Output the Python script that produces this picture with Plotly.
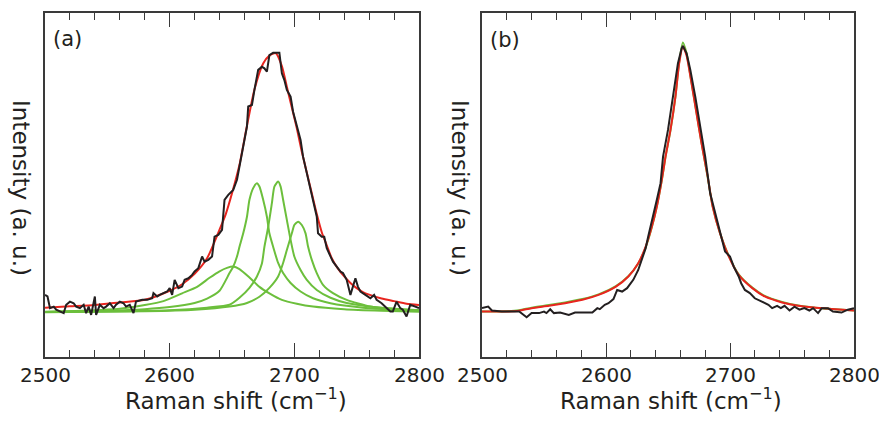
import plotly.graph_objects as go
from plotly.subplots import make_subplots

# ---------------- Panel (a) ----------------
a_black_x = [2500, 2502, 2504, 2507, 2509, 2512, 2515, 2517, 2520, 2523, 2525, 2528, 2531, 2533, 2535,
             2537, 2540, 2541, 2544, 2547, 2549, 2552, 2555, 2557, 2560, 2563, 2565, 2568, 2571, 2573,
             2578, 2582, 2586, 2587, 2590, 2592, 2595, 2598, 2600, 2602, 2604, 2607, 2610, 2612, 2615,
             2618, 2620, 2623, 2626, 2628, 2631, 2634, 2636, 2639, 2642, 2644, 2647, 2650, 2651, 2654,
             2656, 2659, 2662, 2663, 2666, 2668, 2671, 2674, 2676, 2678, 2680, 2683, 2688, 2690, 2692,
             2694, 2697, 2699, 2702, 2705, 2707, 2710, 2713, 2715, 2718, 2719, 2722, 2724, 2726, 2729,
             2731, 2734, 2737, 2739, 2742, 2745, 2747, 2749, 2751, 2753, 2757, 2761, 2764, 2766, 2770,
             2774, 2777, 2779, 2782, 2785, 2787, 2790, 2793, 2797, 2800]
a_black_y = [0.069, 0.063, 0.018, 0.024, 0.012, 0.005, -0.001, 0.031, 0.043, 0.037, 0.024, 0.018, 0.031, -0.001, 0.024,
             -0.008, 0.063, -0.008, 0.031, 0.018, 0.024, 0.037, 0.018, 0.031, 0.043, 0.037, 0.024, 0.031, -0.001, 0.043,
             0.050, 0.050, 0.056, 0.076, 0.063, 0.069, 0.076, 0.082, 0.095, 0.069, 0.127, 0.095, 0.101, 0.127, 0.133,
             0.146, 0.159, 0.172, 0.217, 0.197, 0.204, 0.217, 0.293, 0.300, 0.319, 0.435, 0.454, 0.467, 0.473, 0.512,
             0.563, 0.640, 0.717, 0.794, 0.800, 0.858, 0.935, 0.947, 0.941, 0.928, 0.992, 1.001, 1.001, 0.922, 0.896,
             0.858, 0.832, 0.774, 0.717, 0.665, 0.601, 0.537, 0.473, 0.422, 0.370, 0.306, 0.293, 0.293, 0.249, 0.217,
             0.197, 0.178, 0.159, 0.153, 0.127, 0.069, 0.101, 0.133, 0.101, 0.082, 0.069, 0.056, 0.069, 0.050, 0.037,
             0.018, 0.005, 0.005, 0.043, 0.018, 0.012, -0.014, 0.031, 0.024, 0.018]

a_fit_x = [2500, 2520, 2540, 2560, 2580, 2600, 2610, 2620, 2630, 2640, 2645, 2650, 2656, 2662, 2668, 2675,
           2680, 2685, 2690, 2694, 2698, 2702, 2706, 2710, 2714, 2718, 2722, 2726, 2730, 2735, 2740, 2745,
           2750, 2755, 2760, 2770, 2780, 2790, 2800]
a_fit_y = [0.020, 0.025, 0.030, 0.040, 0.050, 0.085, 0.110, 0.150, 0.210, 0.320, 0.380, 0.460, 0.570, 0.720,
           0.860, 0.960, 0.990, 1.000, 0.950, 0.870, 0.790, 0.710, 0.620, 0.540, 0.460, 0.380, 0.310, 0.260,
           0.210, 0.170, 0.140, 0.115, 0.095, 0.080, 0.070, 0.055, 0.045, 0.035, 0.030]

# component peaks (green)
c1_x = [2500, 2530, 2560, 2580, 2595, 2610, 2622, 2632, 2640, 2646, 2651, 2656, 2664, 2672, 2680, 2690,
        2702, 2715, 2740, 2770, 2800]
c1_y = [0.003, 0.008, 0.016, 0.030, 0.045, 0.075, 0.100, 0.135, 0.160, 0.173, 0.178, 0.168, 0.136, 0.100,
        0.075, 0.050, 0.035, 0.024, 0.014, 0.008, 0.004]

c2_x = [2500, 2550, 2580, 2600, 2620, 2630, 2640, 2648, 2651, 2654, 2656, 2659, 2662, 2664, 2667, 2670,
        2672, 2675, 2678, 2680, 2683, 2687, 2691, 2697, 2705, 2715, 2729, 2755, 2800]
c2_y = [0.004, 0.008, 0.014, 0.022, 0.038, 0.055, 0.085, 0.153, 0.178, 0.217, 0.254, 0.306, 0.370, 0.435,
        0.480, 0.499, 0.486, 0.435, 0.370, 0.306, 0.254, 0.192, 0.153, 0.115, 0.082, 0.056, 0.037, 0.020, 0.007]

c3_x = [2500, 2550, 2600, 2630, 2648, 2656, 2664, 2670, 2674, 2676, 2679, 2682, 2684, 2687, 2689, 2691,
        2694, 2697, 2700, 2705, 2710, 2718, 2729, 2742, 2769, 2800]
c3_y = [0.003, 0.005, 0.010, 0.020, 0.031, 0.058, 0.096, 0.140, 0.190, 0.254, 0.330, 0.422, 0.486, 0.505,
        0.486, 0.435, 0.358, 0.281, 0.217, 0.165, 0.127, 0.088, 0.058, 0.038, 0.020, 0.010]

c4_x = [2500, 2580, 2620, 2648, 2662, 2672, 2680, 2687, 2691, 2694, 2698, 2700, 2703, 2706, 2709, 2711,
        2714, 2718, 2723, 2731, 2742, 2761, 2782, 2800]
c4_y = [0.002, 0.006, 0.012, 0.024, 0.038, 0.062, 0.096, 0.140, 0.192, 0.242, 0.306, 0.338, 0.351, 0.338,
        0.306, 0.255, 0.204, 0.153, 0.108, 0.076, 0.050, 0.024, 0.015, 0.010]

# ---------------- Panel (b) ----------------
b_black_x = [2500, 2505, 2508, 2516, 2530, 2534, 2536, 2540, 2546, 2550, 2552, 2555, 2558, 2563, 2570,
             2575, 2589, 2593, 2595, 2599, 2602, 2606, 2609, 2613, 2617, 2620, 2622, 2626, 2629, 2632,
             2634, 2638, 2641, 2644, 2646, 2650, 2654, 2658, 2661, 2662, 2665, 2668, 2672, 2676, 2680,
             2684, 2688, 2692, 2696, 2700, 2703, 2707, 2709, 2712, 2716, 2720, 2726, 2731, 2734, 2738,
             2741, 2744, 2748, 2752, 2756, 2760, 2764, 2767, 2771, 2774, 2779, 2783, 2790, 2795, 2800]
b_black_y = [0.018, 0.024, 0.009, 0.005, 0.005, -0.008, -0.017, -0.001, -0.001, 0.005, -0.001, 0.014, -0.001, 0.001, -0.008,
             0.001, 0.001, 0.018, 0.014, 0.031, 0.037, 0.053, 0.088, 0.082, 0.095, 0.114, 0.127, 0.165, 0.210, 0.249,
             0.293, 0.370, 0.435, 0.499, 0.601, 0.704, 0.832, 0.960, 1.018, 1.027, 0.999, 0.935, 0.832, 0.717, 0.601,
             0.460, 0.383, 0.306, 0.236, 0.217, 0.178, 0.140, 0.114, 0.088, 0.076, 0.056, 0.043, 0.031, 0.018, 0.027,
             0.018, 0.027, 0.009, 0.024, 0.012, 0.018, 0.009, 0.018, -0.001, 0.018, 0.018, 0.005, 0.001, 0.012, 0.018]

b_fit_x = [2500, 2520, 2530, 2540, 2554, 2567, 2581, 2594, 2608, 2618, 2626, 2632, 2637, 2641, 2645, 2648,
           2652, 2656, 2659, 2662, 2665, 2669, 2673, 2677, 2682, 2686, 2692, 2699, 2707, 2718, 2728, 2742,
           2755, 2769, 2782, 2800]
b_fit_y = [0.005, 0.005, 0.008, 0.018, 0.027, 0.037, 0.050, 0.069, 0.101, 0.140, 0.191, 0.255, 0.332, 0.409,
           0.512, 0.601, 0.704, 0.832, 0.960, 1.025, 0.990, 0.883, 0.768, 0.653, 0.525, 0.409, 0.306, 0.217,
           0.146, 0.095, 0.063, 0.040, 0.027, 0.020, 0.015, 0.009]
b_comp_y = [0.005, 0.006, 0.010, 0.020, 0.030, 0.040, 0.053, 0.071, 0.103, 0.141, 0.190, 0.252, 0.330, 0.410,
            0.510, 0.600, 0.702, 0.832, 0.965, 1.040, 0.998, 0.885, 0.770, 0.655, 0.522, 0.410, 0.306, 0.219,
            0.148, 0.097, 0.065, 0.042, 0.028, 0.020, 0.015, 0.009]

x_ticks = [2500, 2600, 2700, 2800]
x_tick_labels = ["2500", "2600", "2700", "2800"]
x_range = [2500, 2800]
y_range = [-0.17, 1.154]

GREEN = "#6cbf3c"
RED = "#e8251f"
BLACK = "#231f20"
TXT = "#231f20"
FONT = "DejaVu Sans"

fig = make_subplots(rows=1, cols=2)

for cx, cy in [(c1_x, c1_y), (c2_x, c2_y), (c3_x, c3_y), (c4_x, c4_y)]:
    fig.add_trace(go.Scatter(x=cx, y=cy, mode="lines", line=dict(color=GREEN, width=2, shape="spline", smoothing=0.6),
                             showlegend=False, hoverinfo="skip"), row=1, col=1)
fig.add_trace(go.Scatter(x=a_fit_x, y=a_fit_y, mode="lines", line=dict(color=RED, width=2, shape="spline", smoothing=0.6),
                         showlegend=False), row=1, col=1)
fig.add_trace(go.Scatter(x=a_black_x, y=a_black_y, mode="lines", line=dict(color=BLACK, width=2),
                         showlegend=False), row=1, col=1)

fig.add_trace(go.Scatter(x=b_fit_x, y=b_comp_y, mode="lines", line=dict(color=GREEN, width=2, shape="spline", smoothing=0.6),
                         showlegend=False), row=1, col=2)
fig.add_trace(go.Scatter(x=b_fit_x, y=b_fit_y, mode="lines", line=dict(color=RED, width=2, shape="spline", smoothing=0.6),
                         showlegend=False), row=1, col=2)
fig.add_trace(go.Scatter(x=b_black_x, y=b_black_y, mode="lines", line=dict(color=BLACK, width=2),
                         showlegend=False), row=1, col=2)

W, H = 879, 423
dom_a = [45 / W, 419 / W]
dom_b = [482 / W, 854 / W]
dom_y = [1 - 357 / H, 1 - 13 / H]

xcommon = dict(range=x_range, tickvals=x_ticks, ticks="inside", ticklen=14, tickwidth=1.3, tickcolor="#3a3a3a",
               minor=dict(ticks="inside", ticklen=7, dtick=20, tick0=2500, tickwidth=1.3, tickcolor="#3a3a3a"),
               showline=True, linecolor="#3a3a3a", linewidth=1.5, mirror="allticks",
               showgrid=False, zeroline=False, showticklabels=False, automargin=False)
ycommon = dict(range=y_range, showticklabels=False, ticks="", showline=True, linecolor="#3a3a3a",
               linewidth=1.5, mirror=True, showgrid=False, zeroline=False, domain=dom_y, automargin=False)

fig.update_xaxes(domain=dom_a, **xcommon, row=1, col=1)
fig.update_xaxes(domain=dom_b, **xcommon, row=1, col=2)
fig.update_yaxes(**ycommon, row=1, col=1)
fig.update_yaxes(**ycommon, row=1, col=2)


def add_text(x_px, y_px, text, size, angle=0, xanchor="center", yanchor="middle"):
    fig.add_annotation(x=x_px / W, y=1 - y_px / H, xref="paper", yref="paper", text=text, showarrow=False,
                       font=dict(family=FONT, size=size, color=TXT), textangle=angle,
                       xanchor=xanchor, yanchor=yanchor)


# tick labels (annotations so the right-edge label is not clipped)
for xref in ["x", "x2"]:
    for tv, tl in zip(x_ticks, x_tick_labels):
        fig.add_annotation(x=tv, y=1 - 375 / H, xref=xref, yref="paper", text=tl, showarrow=False,
                           font=dict(family=FONT, size=20, color=TXT), xanchor="center", yanchor="middle")

add_text(236, 399, "Raman shift (cm<sup>−1</sup>)", 23)
add_text(671, 399, "Raman shift (cm<sup>−1</sup>)", 23)
add_text(21, 188, "Intensity (a. u.)", 23, angle=90)
add_text(460, 188, "Intensity (a. u.)", 23, angle=90)
add_text(51, 39, "(a)", 21, xanchor="left")
add_text(488, 40, "(b)", 21, xanchor="left")

fig.update_layout(width=W, height=H, margin=dict(l=0, r=0, t=0, b=0), paper_bgcolor="white",
                  plot_bgcolor="white", showlegend=False)

fig.write_html("out.html")
